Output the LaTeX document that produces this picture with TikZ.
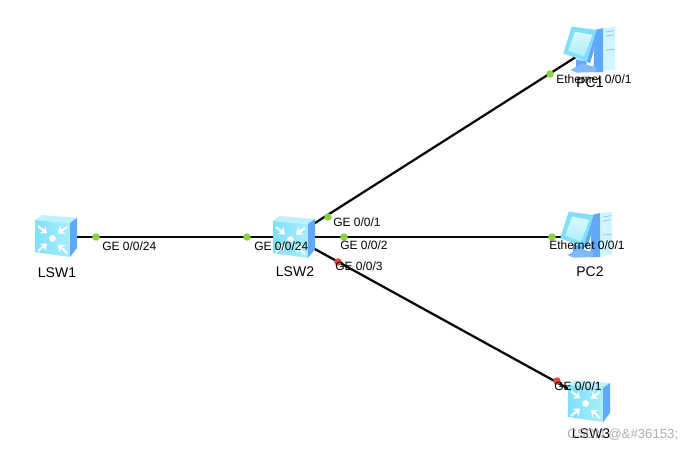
\documentclass[tikz,border=0pt]{standalone}
\usepackage{fontspec}
\usetikzlibrary{arrows.meta}
\setmainfont{Liberation Sans}
\definecolor{linkblack}{HTML}{0A0A0A}
\definecolor{dotgreen}{HTML}{8CD13C}
\definecolor{dotred}{HTML}{F2433A}
\definecolor{iconfront}{HTML}{7FDFFA}
\definecolor{iconfrontb}{HTML}{A8EFFC}
\definecolor{icontop}{HTML}{BDF1FD}
\definecolor{iconside}{HTML}{5FA8FB}
\definecolor{iconpale}{HTML}{CFF6FE}
\definecolor{iconscreen}{HTML}{DDF9FF}
\definecolor{iconscreenb}{HTML}{A9EDFE}
\definecolor{marktext}{HTML}{9A9A9A}
\tikzset{
  x=0.75pt,y=-0.75pt,
  anchorpt/.style={inner sep=0pt,minimum size=0pt},
  link/.style={draw=linkblack,line width=1.7pt},
  portdot/.style={circle,inner sep=0pt,minimum size=5.6pt,fill=#1},
  portlabel/.style={anchor=base west,inner sep=0pt,font=\fontsize{9pt}{10pt}\selectfont,text=black},
  devlabel/.style={anchor=base,inner sep=0pt,font=\fontsize{10.5pt}{11pt}\selectfont,text=black},
  whitearrow/.style={draw=white,line width=1.6pt,-{Stealth[length=4.6pt,width=7pt]}},
  switchicon/.pic={
    \shade[left color=iconfront,right color=iconfrontb] (-20,-17) -- (15,-14) -- (15,20) -- (-20,15) -- cycle;
    \fill[icontop] (-20,-17) -- (-13,-22) -- (22,-19) -- (15,-14) -- cycle;
    \fill[iconside] (15,-14) -- (22,-19) -- (22,11) -- (15,20) -- cycle;
    \fill[white] (-2.5,1.5) circle (3.4);
    \draw[whitearrow] (-17,-11) -- (-8,-3.5);
    \draw[whitearrow] (12,-10) -- (3,-3.5);
    \draw[whitearrow] (-17,14) -- (-8,6.5);
    \draw[whitearrow] (12,16) -- (3,7.5);
  },
  pcicon/.pic={
    \begin{scope}[shift={(-50,-38)},x=0.25pt,y=-0.25pt]
      \fill[iconside] (165,60) -- (190,54) -- (190,186) -- (160,186) -- cycle;
      \fill[iconpale] (190,54) -- (225,50) -- (225,178) -- (190,186) -- cycle;
      \draw[iconside!70!white,line width=.6pt] (198,66) -- (222,62) (198,78) -- (222,74) (198,120) -- (222,118);
      \fill[iconside] (108,148) -- (140,155) -- (140,172) -- (108,172) -- cycle;
      \fill[iconside!80!white] (92,180) -- (125,160) -- (168,172) -- (168,186) -- (110,188) -- cycle;
      \fill[iconside] (168,60) -- (178,64) -- (150,160) -- (140,155) -- cycle;
      \fill[iconfront] (95,50) -- (170,60) -- (140,155) -- (70,130) -- cycle;
      \shade[top color=iconscreen,bottom color=iconscreenb] (105,65) -- (157,75) -- (132,140) -- (85,122) -- cycle;
    \end{scope}
  }
}
\begin{document}
\begin{tikzpicture}
\useasboundingbox[fill=white] (0,0) rectangle (693,450);
% anchor nodes of the devices
\node[anchorpt] (lsw1) at (55,237) {};
\node[anchorpt] (lsw2) at (293,237) {};
\node[anchorpt] (lsw3) at (589,400) {};
\node[anchorpt] (pc1) at (590,48) {};
\node[anchorpt] (pc2) at (587,237) {};
% connectors
\draw[link] (lsw1) -- (lsw2);
\draw[link] (lsw2) -- (pc1);
\draw[link] (lsw2) -- (pc2);
\draw[link] (lsw2) -- (lsw3);
% device icons
\pic at (55,237) {switchicon};
\pic at (293,238) {switchicon};
\pic at (588,402) {switchicon};
\pic at (590,48) {pcicon};
\pic at (587,233) {pcicon};
% port markers
\node[portdot=dotgreen] (p1) at (96,237) {};
\node[portdot=dotgreen] (p2) at (247,237) {};
\node[portdot=dotgreen] (p3) at (328,217) {};
\node[portdot=dotgreen] (p4) at (344,237) {};
\node[portdot=dotred] (p5) at (338,262) {};
\node[portdot=dotgreen] (p6) at (550,74) {};
\node[portdot=dotgreen] (p7) at (552,237) {};
\node[portdot=dotred] (p8) at (557,381) {};
% device labels
\node[devlabel] (t1) at (57,277) {LSW1};
\node[devlabel] (t2) at (295,276) {LSW2};
\node[devlabel] (t3) at (590,87) {PC1};
\node[devlabel] (t4) at (590,276) {PC2};
\node[devlabel] (t5) at (591,438) {LSW3};
% port labels
\node[portlabel] (l1) at (102,250) {GE 0/0/24};
\node[portlabel] (l2) at (254,250) {GE 0/0/24};
\node[portlabel] (l3) at (333,226) {GE 0/0/1};
\node[portlabel] (l4) at (340,249) {GE 0/0/2};
\node[portlabel] (l5) at (335,270) {GE 0/0/3};
\node[portlabel] (l6) at (556,83) {Ethernet 0/0/1};
\node[portlabel] (l7) at (549,249) {Ethernet 0/0/1};
\node[portlabel] (l8) at (554,390) {GE 0/0/1};
% watermark
\node[anchor=base west,inner sep=0pt,font=\fontsize{9.9pt}{11pt}\selectfont,text=marktext,opacity=.8] (wm) at (567,438) {CSDN @\&\#36153;};
\end{tikzpicture}
\end{document}
